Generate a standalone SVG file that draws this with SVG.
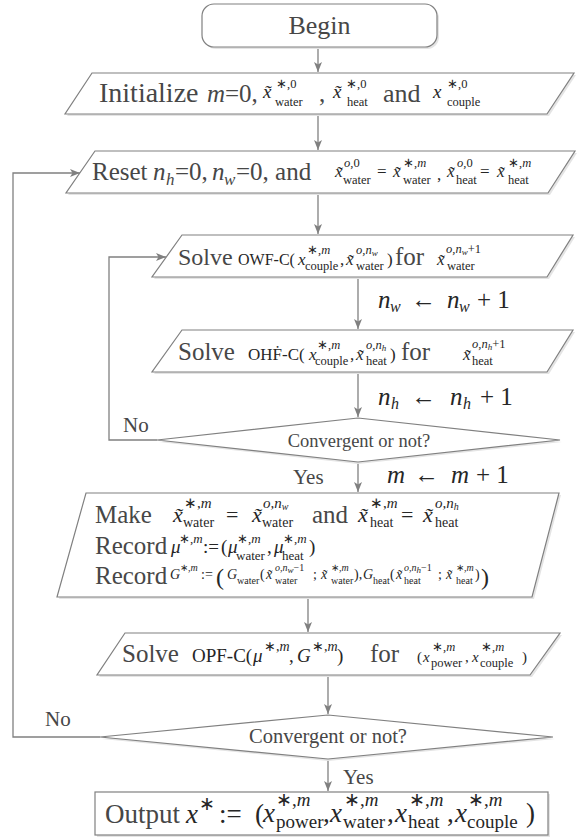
<svg xmlns="http://www.w3.org/2000/svg" width="585" height="837" viewBox="0 0 585 837">
<style>
text{font-family:"Liberation Serif","Times New Roman",serif;fill:#262626}
.w{font-size:25px;fill:#474747}
.i{font-style:italic}
.r{font-style:normal}
.s9{font-size:9px}.s10{font-size:10px}.s12{font-size:12.5px}.s13{font-size:13px}.s14{font-size:14px}.s15{font-size:15px}.s16{font-size:16px}.s17{font-size:17px}.s19{font-size:19px}.s22{font-size:22px}.s25{font-size:25px}.s27{font-size:27px}
.lab{font-size:21px;fill:#474747}
.box{fill:#fff;stroke:#808080;stroke-width:1.2}
.sh{fill:#e4e4e4}
.c{fill:none;stroke:#808080;stroke-width:1.3;marker-end:url(#ah)}
</style>
<defs>
<marker id="ah" markerUnits="userSpaceOnUse" markerWidth="10" markerHeight="8" refX="10" refY="4" orient="auto"><path d="M0,0 L10,4 L0,8 L2.5,4 z" fill="#808080"/></marker>
</defs>

<g id="connectors">
<path class="c" d="M318,47 V72"/>
<path class="c" d="M318,114 V150"/>
<path class="c" d="M318,193 V234"/>
<path class="c" d="M358,277 V329"/>
<path class="c" d="M358,372 V417"/>
<path class="c" d="M358,462 V492"/>
<path class="c" d="M308,597 V632"/>
<path class="c" d="M328,675 V714"/>
<path class="c" d="M328,759 V791"/>
<path class="c" d="M157,440 H109 V257 H166"/>
<path class="c" d="M100,737 H13 V173 H80"/>
<text class="lab" x="123" y="432">No</text>
<text class="lab" x="45" y="726">No</text>
<text class="lab" x="293" y="484">Yes</text>
<text class="lab" x="343" y="784">Yes</text>
<g class="i">
<text class="s25" x="378" y="308">n</text><text class="s16" x="390" y="312">w</text>
<text class="s25 r" x="411" y="308">←</text>
<text class="s25" x="447" y="308">n</text><text class="s16" x="459" y="312">w</text>
<text class="s25 r" x="477" y="308">+ 1</text>
<text class="s25" x="378" y="405">n</text><text class="s16" x="391" y="409">h</text>
<text class="s25 r" x="411" y="405">←</text>
<text class="s25" x="450" y="405">n</text><text class="s16" x="463" y="409">h</text>
<text class="s25 r" x="480" y="405">+ 1</text>
<text class="s25" x="387" y="483">m</text>
<text class="s25 r" x="414" y="483">←</text>
<text class="s25" x="451" y="483">m</text>
<text class="s25 r" x="476" y="483">+ 1</text>
</g>
</g>

<g id="begin">
<rect class="sh" x="204" y="6" width="235" height="43" rx="12"/>
<rect class="box" x="202" y="4" width="235" height="43" rx="12"/>
<text class="w" x="319.5" y="34" text-anchor="middle" style="font-size:26px">Begin</text>
</g>

<g id="init">
<polygon class="sh" points="94,75 576,75 549,116 67,116"/>
<polygon class="box" points="92,73 574,73 547,114 65,114"/>
<text class="w" x="99" y="102" style="font-size:28px">Initialize</text>
<text class="w i" x="207" y="102" style="font-size:25px">m</text>
<text class="w" x="225" y="102" style="font-size:25px">=0,</text>
<text class="i s19" x="263" y="98">x&#x303;</text><text class="s12" x="276" y="88">∗,0</text><text class="s12" x="275" y="106">water</text>
<text class="w" x="319" y="102">,</text>
<text class="i s19" x="333" y="98">x&#x303;</text><text class="s12" x="346" y="88">∗,0</text><text class="s12" x="347" y="106">heat</text>
<text class="w" x="383" y="102" style="font-size:26px">and</text>
<text class="i s19" x="433" y="98">x</text><text class="s12" x="447" y="88">∗,0</text><text class="s12" x="447" y="106">couple</text>
</g>

<g id="reset">
<polygon class="sh" points="97,153 577,153 550,195 68,195"/>
<polygon class="box" points="95,151 575,151 548,193 66,193"/>
<text class="w" x="92" y="180">Reset</text>
<text class="w i" x="153" y="180">n</text><text class="w i s17" x="166" y="185">h</text>
<text class="w" x="175" y="180">=0,</text>
<text class="w i" x="212" y="180">n</text><text class="w i s17" x="224" y="185">w</text>
<text class="w" x="236" y="180">=0, and</text>
<text class="i s17" x="335" y="177">x&#x303;</text><text class="i s12" x="344" y="167">o,<tspan class="r">0</tspan></text><text class="s12" x="343" y="184">water</text>
<text class="s17" x="377" y="177">=</text>
<text class="i s17" x="393" y="177">x&#x303;</text><text class="s12" x="403" y="167">∗,<tspan class="i">m</tspan></text><text class="s12" x="403" y="184">water</text>
<text class="s17" x="437" y="180">,</text>
<text class="i s17" x="447" y="177">x&#x303;</text><text class="i s12" x="457" y="167">o,<tspan class="r">0</tspan></text><text class="s12" x="456" y="184">heat</text>
<text class="s17" x="480" y="177">=</text>
<text class="i s17" x="497" y="177">x&#x303;</text><text class="s12" x="508" y="167">∗,<tspan class="i">m</tspan></text><text class="s12" x="508" y="184">heat</text>
</g>

<g id="owf">
<polygon class="sh" points="184,237 575,237 549,279 154,279"/>
<polygon class="box" points="182,235 573,235 547,277 152,277"/>
<text class="w" x="178" y="265" style="font-size:24px">Solve</text>
<text class="s16" x="238" y="265">OWF-C(</text>
<text class="i s17" x="298" y="265">x</text><text class="s12" x="307" y="254">∗,<tspan class="i">m</tspan></text><text class="s12" x="305" y="270">couple</text>
<text class="s17" x="340" y="265">,</text>
<text class="i s17" x="346" y="265">x&#x303;</text><text class="i s12" x="356" y="254">o,n<tspan class="s9" dy="2">w</tspan></text><text class="s12" x="356" y="270">water</text>
<text class="s17" x="387" y="265">)</text>
<text class="w" x="395" y="265">for</text>
<text class="i s17" x="437" y="265">x&#x303;</text><text class="i s12" x="446" y="253">o,n<tspan class="s9" dy="2">w</tspan><tspan class="r" dy="-2">+1</tspan></text><text class="s12" x="447" y="270">water</text>
</g>

<g id="ohf">
<polygon class="sh" points="184,332 575,332 549,374 154,374"/>
<polygon class="box" points="182,330 573,330 547,372 152,372"/>
<text class="w" x="178" y="360">Solve</text>
<text class="s17" x="248" y="360">OHḞ-C(</text>
<text class="i s17" x="309" y="360">x</text><text class="s12" x="317" y="349">∗,<tspan class="i">m</tspan></text><text class="s12" x="315" y="365">couple</text>
<text class="s17" x="350" y="360">,</text>
<text class="i s17" x="356" y="360">x&#x303;</text><text class="i s12" x="366" y="349">o,n<tspan class="s9" dy="2">h</tspan></text><text class="s12" x="366" y="365">heat</text>
<text class="s17" x="390" y="360">)</text>
<text class="w" x="401" y="360">for</text>
<text class="i s17" x="463" y="360">x&#x303;</text><text class="i s12" x="472" y="348">o,n<tspan class="s9" dy="2">h</tspan><tspan class="r" dy="-2">+1</tspan></text><text class="s12" x="472" y="365">heat</text>
</g>

<g id="decision1">
<polygon class="sh" points="358,420 562,442 358,464 159,442"/>
<polygon class="box" points="358,418 560,440 358,462 157,440"/>
<text x="359" y="447" text-anchor="middle" style="font-size:18.5px;fill:#474747">Convergent or not?</text>
</g>

<g id="make">
<polygon class="sh" points="88,495 561,495 534,599 59,599"/>
<polygon class="box" points="86,493 559,493 532,597 57,597"/>
<text class="w" x="95" y="523">Make</text>
<text class="i s22" x="173" y="522">x&#x303;</text><text class="s15" x="184" y="508">∗,<tspan class="i">m</tspan></text><text class="s14" x="183" y="527">water</text>
<text class="s22" x="226" y="522">=</text>
<text class="i s22" x="252" y="522">x&#x303;</text><text class="i s15" x="263" y="508">o,n<tspan class="s10" dy="2">w</tspan></text><text class="s14" x="262" y="527">water</text>
<text class="w" x="312" y="523">and</text>
<text class="i s22" x="358" y="522">x&#x303;</text><text class="s15" x="370" y="508">∗,<tspan class="i">m</tspan></text><text class="s14" x="370" y="527">heat</text>
<text class="s22" x="401" y="522">=</text>
<text class="i s22" x="423" y="522">x&#x303;</text><text class="i s15" x="435" y="508">o,n<tspan class="s10" dy="2">h</tspan></text><text class="s14" x="435" y="527">heat</text>

<text class="w" x="95" y="554">Record</text>
<text class="i s19" x="171" y="553">μ</text><text class="s13" x="179" y="543">∗,<tspan class="i">m</tspan></text>
<text class="s19" x="203" y="553">:=</text>
<text class="s19" x="221" y="553">(</text>
<text class="i s19" x="228" y="553">μ</text><text class="s13" x="237" y="543">∗,<tspan class="i">m</tspan></text><text class="s13" x="236" y="560">water</text>
<text class="s19" x="267" y="553">,</text>
<text class="i s19" x="274" y="553">μ</text><text class="s13" x="283" y="543">∗,<tspan class="i">m</tspan></text><text class="s13" x="282" y="560">heat</text>
<text class="s19" x="309" y="553">)</text>

<text class="w" x="95" y="584">Record</text>
<text class="i s14" x="170" y="579">G</text><text class="s10" x="180" y="571">∗,<tspan class="i">m</tspan></text>
<text class="s14" x="201" y="579">:=</text>
<text x="216" y="585" style="font-size:24px">(</text>
<text class="i s14" x="227" y="579">G</text><text class="s10" x="237" y="584">water</text>
<text class="s14" x="260" y="579">(</text>
<text class="i s14" x="266" y="579">x&#x303;</text><text class="i s10" x="275" y="571">o,n<tspan class="s9" dy="1.5">w</tspan><tspan class="r" dy="-1.5">−1</tspan></text><text class="s10" x="275" y="584">water</text>
<text class="s14" x="313" y="579">;</text>
<text class="i s14" x="321" y="579">x&#x303;</text><text class="s10" x="331" y="571">∗,<tspan class="i">m</tspan></text><text class="s10" x="331" y="584">water</text>
<text class="s14" x="354" y="579">),</text>
<text class="i s14" x="363" y="579">G</text><text class="s10" x="373" y="584">heat</text>
<text class="s14" x="390" y="579">(</text>
<text class="i s14" x="396" y="579">x&#x303;</text><text class="i s10" x="404" y="571">o,n<tspan class="s9" dy="1.5">h</tspan><tspan class="r" dy="-1.5">−1</tspan></text><text class="s10" x="404" y="584">heat</text>
<text class="s14" x="438" y="579">;</text>
<text class="i s14" x="446" y="579">x&#x303;</text><text class="s10" x="456" y="571">∗,<tspan class="i">m</tspan></text><text class="s10" x="456" y="584">heat</text>
<text class="s14" x="475" y="579">)</text>
<text x="481" y="585" style="font-size:24px">)</text>
</g>

<g id="opf">
<polygon class="sh" points="127,635 562,635 532,677 99,677"/>
<polygon class="box" points="125,633 560,633 530,675 97,675"/>
<text class="w" x="122" y="662">Solve</text>
<text class="s19" x="192" y="662">OPF-C(</text>
<text class="i s19" x="253" y="662">μ</text><text class="s14" x="264" y="651">∗,<tspan class="i">m</tspan></text>
<text class="s19" x="289" y="662">,</text>
<text class="i s19" x="297" y="662">G</text><text class="s14" x="312" y="651">∗,<tspan class="i">m</tspan></text>
<text class="s19" x="337" y="662">)</text>
<text class="w" x="370" y="662">for</text>
<text class="s15" x="417" y="662">(</text>
<text class="i s15" x="423" y="662">x</text><text class="s12" x="432" y="651">∗,<tspan class="i">m</tspan></text><text class="s12" x="431" y="667">power</text>
<text class="s15" x="465" y="662">,</text>
<text class="i s15" x="472" y="662">x</text><text class="s12" x="481" y="651">∗,<tspan class="i">m</tspan></text><text class="s12" x="480" y="667">couple</text>
<text class="s15" x="522" y="662">)</text>
</g>

<g id="decision2">
<polygon class="sh" points="328,717 555,739 328,761 102,739"/>
<polygon class="box" points="328,715 553,737 328,759 100,737"/>
<text x="328" y="743" text-anchor="middle" style="font-size:20.5px;fill:#474747">Convergent or not?</text>
</g>

<g id="output">
<rect class="sh" x="97" y="794" width="453" height="43"/>
<rect class="box" x="95" y="792" width="453" height="43"/>
<text class="w" x="105" y="823" style="font-size:27px">Output</text>
<text class="i s27" x="186" y="823">x</text><text class="s19" x="199" y="810">∗</text>
<text class="s27" x="219" y="823">:=</text>
<text class="s27" x="255" y="823">(</text>
<text class="i s27" x="263" y="822">x</text><text class="s19" x="276" y="806">∗,<tspan class="i">m</tspan></text><text class="s19" x="276" y="828">power</text>
<text class="s27" x="323" y="822">,</text>
<text class="i s27" x="330" y="822">x</text><text class="s19" x="344" y="806">∗,<tspan class="i">m</tspan></text><text class="s19" x="343" y="828">water</text>
<text class="s27" x="387" y="822">,</text>
<text class="i s27" x="395" y="822">x</text><text class="s19" x="409" y="806">∗,<tspan class="i">m</tspan></text><text class="s19" x="408" y="828">heat</text>
<text class="s27" x="447" y="822">,</text>
<text class="i s27" x="455" y="822">x</text><text class="s19" x="468" y="806">∗,<tspan class="i">m</tspan></text><text class="s19" x="467" y="828">couple</text>
<text class="s27" x="526" y="822">)</text>
</g>
</svg>
